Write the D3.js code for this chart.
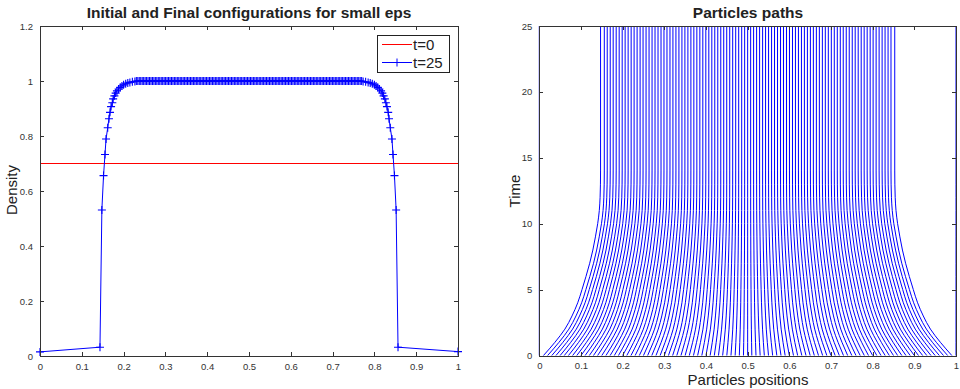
<!DOCTYPE html>
<meta charset="utf-8">
<style>
body { margin: 0; background: #fff; }
text { font-family: "Liberation Sans", Arial, sans-serif; fill: #222; }
.axis path, .axis line { fill: none; stroke: #333; stroke-width: 1px; shape-rendering: crispEdges; }
.axis text { font-size: 9.5px; fill: #333; }
.title { font-weight: bold; font-size: 15.5px; text-anchor: middle; }
.label { font-size: 15px; text-anchor: middle; }
</style>
<svg width="960" height="389"></svg>
<script src="https://d3js.org/d3.v7.min.js"></script>
<script>
// left panel: density at t=0 and t=25
var rho0 = 0.7;
var leftEdgeX = [0, 0.1435, 0.148, 0.152, 0.1555, 0.158, 0.162, 0.165, 0.1675, 0.170, 0.173, 0.175,
  0.178, 0.181, 0.184, 0.188, 0.192, 0.196, 0.200, 0.205, 0.210, 0.215, 0.221, 0.227];
var leftEdgeRho = [0.015, 0.032, 0.531, 0.656, 0.733, 0.789, 0.830, 0.863, 0.886, 0.907, 0.921, 0.935,
  0.946, 0.956, 0.964, 0.971, 0.977, 0.982, 0.986, 0.990, 0.993, 0.995, 0.997, 0.998];
var plateauX = [
  0.2305, 0.2340, 0.2375, 0.2410, 0.2445, 0.2480, 0.2515, 0.2550, 0.2585, 0.2620,
  0.2655, 0.2690, 0.2725, 0.2760, 0.2795, 0.2830, 0.2865, 0.2900, 0.2935, 0.2970,
  0.3005, 0.3040, 0.3075, 0.3110, 0.3145, 0.3180, 0.3215, 0.3250, 0.3285, 0.3320,
  0.3355, 0.3390, 0.3425, 0.3460, 0.3495, 0.3530, 0.3565, 0.3600, 0.3635, 0.3670,
  0.3705, 0.3740, 0.3775, 0.3810, 0.3845, 0.3880, 0.3915, 0.3950, 0.3985, 0.4020,
  0.4055, 0.4090, 0.4125, 0.4160, 0.4195, 0.4230, 0.4265, 0.4300, 0.4335, 0.4370,
  0.4405, 0.4440, 0.4475, 0.4510, 0.4545, 0.4580, 0.4615, 0.4650, 0.4685, 0.4720,
  0.4755, 0.4790, 0.4825, 0.4860, 0.4895, 0.4930, 0.4965, 0.5000, 0.5035, 0.5070,
  0.5105, 0.5140, 0.5175, 0.5210, 0.5245, 0.5280, 0.5315, 0.5350, 0.5385, 0.5420,
  0.5455, 0.5490, 0.5525, 0.5560, 0.5595, 0.5630, 0.5665, 0.5700, 0.5735, 0.5770,
  0.5805, 0.5840, 0.5875, 0.5910, 0.5945, 0.5980, 0.6015, 0.6050, 0.6085, 0.6120,
  0.6155, 0.6190, 0.6225, 0.6260, 0.6295, 0.6330, 0.6365, 0.6400, 0.6435, 0.6470,
  0.6505, 0.6540, 0.6575, 0.6610, 0.6645, 0.6680, 0.6715, 0.6750, 0.6785, 0.6820,
  0.6855, 0.6890, 0.6925, 0.6960, 0.6995, 0.7030, 0.7065, 0.7100, 0.7135, 0.7170,
  0.7205, 0.7240, 0.7275, 0.7310, 0.7345, 0.7380, 0.7415, 0.7450, 0.7485, 0.7520,
  0.7555, 0.7590, 0.7625, 0.7660, 0.7695];
var plateauRho = 1;
var rightEdgeX = [0.773, 0.779, 0.785, 0.790, 0.795, 0.800, 0.804, 0.808, 0.812, 0.816, 0.819, 0.822,
  0.825, 0.8275, 0.830, 0.833, 0.835, 0.838, 0.842, 0.8445, 0.848, 0.852, 0.8565, 1];
var rightEdgeRho = [0.998, 0.997, 0.995, 0.993, 0.990, 0.986, 0.982, 0.977, 0.971, 0.964, 0.956, 0.946,
  0.935, 0.921, 0.907, 0.886, 0.863, 0.830, 0.789, 0.733, 0.656, 0.531, 0.032, 0.016];

// right panel: particle positions at t=0 and t=25, and the share of the way still left at each time
var startPos = [0, 0.01, 0.02, 0.03, 0.04, 0.05, 0.06, 0.07, 0.08, 0.09, 0.10, 0.11, 0.12, 0.13,
  0.14, 0.15, 0.16, 0.17, 0.18, 0.19, 0.20, 0.21, 0.22, 0.23, 0.24, 0.25, 0.26, 0.27, 0.28,
  0.29, 0.30, 0.31, 0.32, 0.33, 0.34, 0.35, 0.36, 0.37, 0.38, 0.39, 0.40, 0.41, 0.42, 0.43,
  0.44, 0.45, 0.46, 0.47, 0.48, 0.49, 0.50, 0.51, 0.52, 0.53, 0.54, 0.55, 0.56, 0.57, 0.58,
  0.59, 0.60, 0.61, 0.62, 0.63, 0.64, 0.65, 0.66, 0.67, 0.68, 0.69, 0.70, 0.71, 0.72, 0.73,
  0.74, 0.75, 0.76, 0.77, 0.78, 0.79, 0.80, 0.81, 0.82, 0.83, 0.84, 0.85, 0.86, 0.87, 0.88,
  0.89, 0.90, 0.91, 0.92, 0.93, 0.94, 0.95, 0.96, 0.97, 0.98, 0.99, 1];
var endPos = [0, 0.147, 0.156, 0.1630, 0.1702, 0.1773, 0.1845, 0.1917, 0.1989, 0.2060, 0.2132,
  0.2204, 0.2275, 0.2347, 0.2419, 0.2490, 0.2562, 0.2634, 0.2706, 0.2777, 0.2849, 0.2921,
  0.2992, 0.3064, 0.3136, 0.3207, 0.3279, 0.3351, 0.3423, 0.3494, 0.3566, 0.3638, 0.3709,
  0.3781, 0.3853, 0.3924, 0.3996, 0.4068, 0.4140, 0.4211, 0.4283, 0.4355, 0.4426, 0.4498,
  0.4570, 0.4641, 0.4713, 0.4785, 0.4857, 0.4928, 0.5000, 0.5072, 0.5143, 0.5215, 0.5287,
  0.5359, 0.5430, 0.5502, 0.5574, 0.5645, 0.5717, 0.5789, 0.5860, 0.5932, 0.6004, 0.6076,
  0.6147, 0.6219, 0.6291, 0.6362, 0.6434, 0.6506, 0.6577, 0.6649, 0.6721, 0.6793, 0.6864,
  0.6936, 0.7008, 0.7079, 0.7151, 0.7223, 0.7294, 0.7366, 0.7438, 0.7510, 0.7581, 0.7653,
  0.7725, 0.7796, 0.7868, 0.7940, 0.8011, 0.8083, 0.8155, 0.8227, 0.8298, 0.8370, 0.844,
  0.853, 1];
var tSamples = [0, 1, 2, 3, 4, 5, 6, 7, 8, 9, 10, 11, 12, 13, 14, 25];
var remaining = [1, 0.80, 0.625, 0.50, 0.40, 0.325, 0.255, 0.19, 0.135, 0.09, 0.05, 0.022, 0.008, 0.002, 0, 0];

var xTicks = [0, 0.1, 0.2, 0.3, 0.4, 0.5, 0.6, 0.7, 0.8, 0.9, 1];
var densTicks = [0, 0.2, 0.4, 0.6, 0.8, 1, 1.2];
var timeTicks = [0, 5, 10, 15, 20, 25];

var svg = d3.select("svg");

function frame(g, x, y, yTicks) {
  g.append("g").attr("class", "axis")
      .attr("transform", "translate(0," + y.range()[0] + ")")
      .call(d3.axisBottom(x).tickValues(xTicks).tickSizeInner(-4).tickSizeOuter(0).tickPadding(7)
        .tickFormat(d3.format("")));
  g.append("g").attr("class", "axis")
      .attr("transform", "translate(0," + y.range()[1] + ")")
      .call(d3.axisTop(x).tickValues(xTicks).tickSizeInner(-4).tickSizeOuter(0).tickFormat(""));
  g.append("g").attr("class", "axis")
      .attr("transform", "translate(" + x.range()[0] + ",0)")
      .call(d3.axisLeft(y).tickValues(yTicks).tickSizeInner(-4).tickSizeOuter(0).tickPadding(7)
        .tickFormat(d3.format("")));
  g.append("g").attr("class", "axis")
      .attr("transform", "translate(" + x.range()[1] + ",0)")
      .call(d3.axisRight(y).tickValues(yTicks).tickSizeInner(-4).tickSizeOuter(0).tickFormat(""));
}

// ---------- left panel ----------
var x1 = d3.scaleLinear().domain([0, 1]).range([40, 458]);
var y1 = d3.scaleLinear().domain([0, 1.2]).range([356, 26]);
var g1 = svg.append("g");

g1.append("line")
    .attr("x1", x1(0)).attr("x2", x1(1))
    .attr("y1", y1(rho0)).attr("y2", y1(rho0))
    .attr("stroke", "#ff0000").attr("stroke-width", 1);

var pts = leftEdgeX.map(function(d, i) { return [d, leftEdgeRho[i]]; })
    .concat(plateauX.map(function(d) { return [d, plateauRho]; }))
    .concat(rightEdgeX.map(function(d, i) { return [d, rightEdgeRho[i]]; }));

g1.append("path")
    .datum(pts)
    .attr("fill", "none").attr("stroke", "#0000ff").attr("stroke-width", 1)
    .attr("d", d3.line().x(function(d) { return x1(d[0]); }).y(function(d) { return y1(d[1]); }));

g1.selectAll(".mk")
    .data(pts)
  .enter().append("path")
    .attr("class", "mk")
    .attr("transform", function(d) { return "translate(" + x1(d[0]) + "," + y1(d[1]) + ")"; })
    .attr("d", "M-4,0H4M0,-4V4")
    .attr("stroke", "#0000ff").attr("stroke-width", 1.1);

frame(g1, x1, y1, densTicks);

g1.append("text").attr("class", "title").attr("x", 249).attr("y", 18)
    .text("Initial and Final configurations for small eps");
g1.append("text").attr("class", "label")
    .attr("transform", "translate(17,190) rotate(-90)")
    .text("Density");

// legend
var lg = g1.append("g").attr("transform", "translate(377,35)");
lg.append("rect").attr("width", 72).attr("height", 37)
    .attr("fill", "#fff").attr("stroke", "#222").attr("stroke-width", 1)
    .attr("shape-rendering", "crispEdges");
lg.append("line").attr("x1", 5).attr("x2", 35).attr("y1", 9.5).attr("y2", 9.5)
    .attr("stroke", "#ff0000");
lg.append("line").attr("x1", 5).attr("x2", 35).attr("y1", 27.5).attr("y2", 27.5)
    .attr("stroke", "#0000ff");
lg.append("path").attr("d", "M16,27.5H24M20,23.5V31.5").attr("stroke", "#0000ff");
lg.append("text").attr("x", 36).attr("y", 14.5).style("font-size", "15px").text("t=0");
lg.append("text").attr("x", 36).attr("y", 32.5).style("font-size", "15px").text("t=25");

// ---------- right panel ----------
var x2 = d3.scaleLinear().domain([0, 1]).range([539.3, 956]);
var y2 = d3.scaleLinear().domain([0, 25]).range([355.5, 26]);
var g2 = svg.append("g");

var path = d3.line()
    .x(function(d) { return x2(d[0]); })
    .y(function(d) { return y2(d[1]); })
    .curve(d3.curveMonotoneY);

g2.selectAll(".traj")
    .data(startPos.map(function(s, i) {
      return tSamples.map(function(t, j) { return [endPos[i] + (s - endPos[i]) * remaining[j], t]; });
    }))
  .enter().append("path")
    .attr("class", "traj")
    .attr("fill", "none").attr("stroke", "#0000ff").attr("stroke-width", 1)
    .attr("d", path);

frame(g2, x2, y2, timeTicks);

g2.append("text").attr("class", "title").attr("x", 748).attr("y", 18).text("Particles paths");
g2.append("text").attr("class", "label").attr("x", 748).attr("y", 385).text("Particles positions");
g2.append("text").attr("class", "label")
    .attr("transform", "translate(520,191) rotate(-90)")
    .text("Time");
</script>
